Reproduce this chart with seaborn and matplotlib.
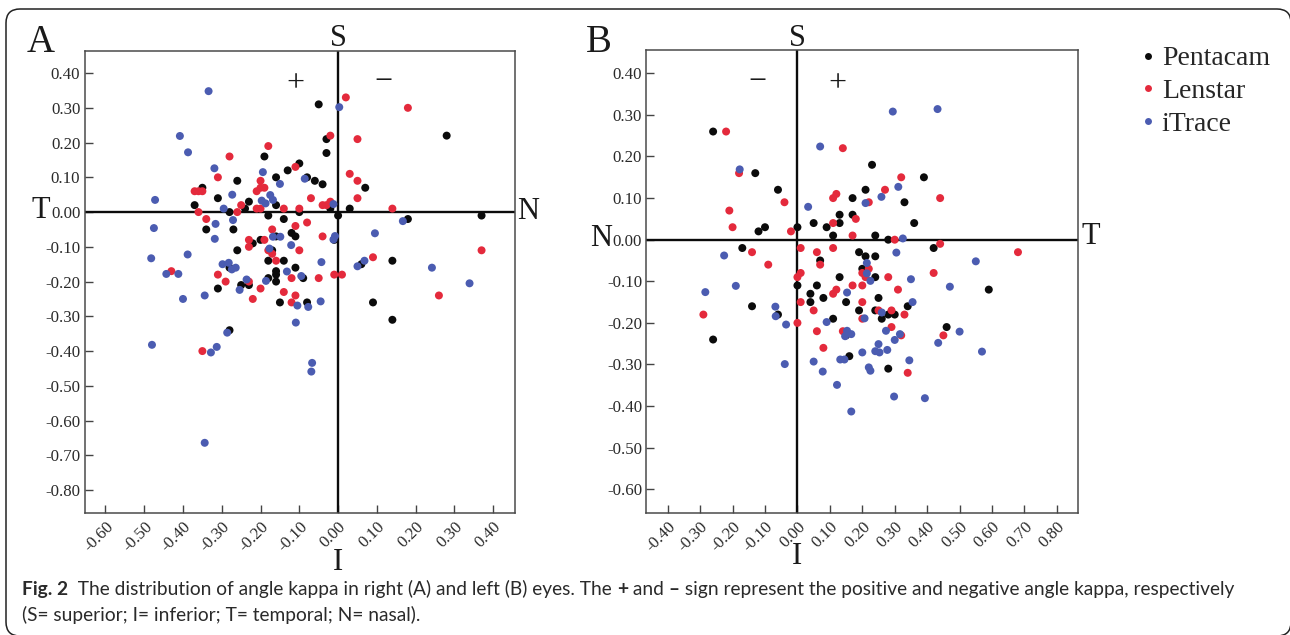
import pandas as pd
import matplotlib
matplotlib.use("Agg")
import matplotlib.pyplot as plt
import seaborn as sns
from matplotlib.lines import Line2D
from matplotlib.patches import FancyBboxPatch
from matplotlib.transforms import IdentityTransform

# right eye (A)
rightPentacamX = [-0.35, -0.37, -0.31, -0.26, -0.19, -0.16, -0.13, -0.23, -0.24, -0.28, -0.16, -0.18, -0.14, -0.34, -0.27, -0.12, -0.11, -0.16, -0.20, -0.22, -0.26, -0.17, -0.18, -0.14, -0.16, -0.16, -0.18, -0.16, -0.28, -0.25, -0.23, -0.31, -0.05, -0.03, -0.03, -0.10, -0.08, -0.06, -0.04, 0.07, 0.28, 0.03, -0.02, -0.10, 0.00, 0.18, 0.37, -0.01, 0.14, 0.06, -0.11, -0.09, -0.15, -0.08, 0.09, 0.14, -0.28]
rightPentacamY = [0.07, 0.02, 0.04, 0.09, 0.16, 0.10, 0.12, 0.03, 0.01, 0.00, 0.02, -0.01, -0.02, -0.05, -0.05, -0.06, -0.07, -0.07, -0.08, -0.09, -0.11, -0.11, -0.14, -0.14, -0.17, -0.18, -0.19, -0.20, -0.16, -0.21, -0.21, -0.22, 0.31, 0.21, 0.17, 0.14, 0.10, 0.09, 0.08, 0.07, 0.22, 0.01, 0.01, 0.00, -0.01, -0.02, -0.01, -0.08, -0.14, -0.15, -0.16, -0.19, -0.26, -0.26, -0.26, -0.31, -0.34]
rightLenstarX = [-0.18, -0.28, -0.31, -0.20, -0.19, -0.20, -0.21, -0.37, -0.36, -0.35, -0.25, -0.21, -0.20, -0.14, -0.26, -0.36, -0.34, -0.17, -0.23, -0.19, -0.23, -0.18, -0.17, -0.16, -0.43, -0.31, -0.29, -0.23, -0.20, -0.12, 0.02, 0.18, -0.02, 0.05, 0.03, 0.05, 0.05, 0.14, -0.11, -0.07, -0.04, -0.03, -0.02, -0.10, -0.08, -0.11, -0.04, -0.10, 0.09, 0.37, -0.01, 0.01, -0.05, -0.22, -0.14, -0.11, -0.12, 0.26, -0.35]
rightLenstarY = [0.19, 0.16, 0.10, 0.09, 0.07, 0.07, 0.06, 0.06, 0.06, 0.06, 0.02, 0.01, 0.01, 0.01, 0.00, 0.00, -0.02, -0.05, -0.08, -0.08, -0.10, -0.11, -0.12, -0.14, -0.17, -0.18, -0.20, -0.20, -0.22, -0.19, 0.33, 0.30, 0.22, 0.21, 0.11, 0.09, 0.04, 0.01, 0.13, 0.04, 0.02, 0.02, 0.03, 0.01, -0.03, -0.04, -0.07, -0.11, -0.13, -0.11, -0.18, -0.18, -0.19, -0.25, -0.23, -0.24, -0.26, -0.24, -0.40]
rightItraceX = [-0.334, -0.408, -0.387, -0.319, -0.472, -0.475, -0.316, -0.318, -0.271, -0.273, -0.295, -0.482, -0.388, -0.443, -0.412, -0.298, -0.282, -0.274, -0.264, -0.236, -0.186, -0.177, -0.168, -0.149, -0.132, -0.194, -0.150, -0.175, -0.197, -0.187, -0.168, -0.121, -0.254, 0.003, -0.086, -0.012, 0.167, 0.095, -0.008, -0.012, -0.043, 0.068, 0.050, 0.242, 0.339, -0.095, -0.400, -0.344, -0.045, -0.105, -0.077, -0.109, -0.286, -0.313, -0.328, -0.480, -0.067, -0.069, -0.344]
rightItraceY = [0.348, 0.219, 0.172, 0.126, 0.035, -0.046, -0.034, -0.077, -0.023, 0.050, 0.010, -0.133, -0.122, -0.178, -0.178, -0.150, -0.146, -0.165, -0.160, -0.194, -0.198, -0.105, -0.071, -0.071, -0.171, 0.115, 0.081, 0.049, 0.033, 0.025, 0.035, -0.095, -0.224, 0.302, 0.096, 0.023, -0.026, -0.061, -0.069, -0.079, -0.144, -0.140, -0.156, -0.160, -0.205, -0.184, -0.250, -0.240, -0.257, -0.269, -0.273, -0.318, -0.347, -0.388, -0.404, -0.382, -0.434, -0.459, -0.664]

# left eye (B)
leftPentacamX = [-0.26, -0.13, -0.06, -0.12, -0.10, 0.00, 0.05, 0.09, 0.11, 0.13, 0.13, 0.17, 0.17, 0.21, 0.23, -0.17, 0.07, 0.19, 0.21, 0.20, 0.13, 0.00, 0.06, 0.04, 0.04, 0.08, 0.15, 0.19, -0.14, -0.06, 0.11, 0.39, 0.33, 0.36, 0.24, 0.28, 0.24, 0.42, 0.24, 0.25, 0.24, 0.26, 0.28, 0.30, 0.34, 0.59, -0.26, 0.46, 0.16, 0.28, 0.15]
leftPentacamY = [0.26, 0.16, 0.12, 0.02, 0.03, 0.03, 0.04, 0.03, 0.01, 0.04, 0.06, 0.10, 0.06, 0.12, 0.18, -0.02, -0.05, -0.03, -0.04, -0.07, -0.09, -0.11, -0.11, -0.13, -0.15, -0.14, -0.15, -0.17, -0.16, -0.18, -0.19, 0.15, 0.09, 0.04, 0.01, 0.00, -0.04, -0.02, -0.09, -0.14, -0.17, -0.19, -0.18, -0.18, -0.16, -0.12, -0.24, -0.21, -0.28, -0.31, -0.23]
leftLenstarX = [-0.22, 0.14, -0.18, -0.04, 0.12, 0.11, -0.21, -0.20, -0.02, 0.11, 0.18, 0.17, -0.14, 0.01, 0.06, 0.11, 0.07, -0.09, 0.01, 0.00, 0.20, 0.21, 0.22, 0.12, 0.11, 0.17, 0.20, 0.01, 0.20, 0.05, -0.29, 0.32, 0.27, 0.44, 0.22, 0.30, 0.44, 0.68, 0.42, 0.28, 0.31, 0.25, 0.29, 0.33, 0.00, 0.20, 0.29, 0.06, 0.14, 0.32, 0.45, 0.08, 0.34]
leftLenstarY = [0.26, 0.22, 0.16, 0.09, 0.11, 0.10, 0.07, 0.03, 0.02, 0.04, 0.05, 0.01, -0.03, -0.02, -0.03, -0.02, -0.06, -0.06, -0.08, -0.09, -0.08, -0.09, -0.07, -0.12, -0.13, -0.11, -0.11, -0.15, -0.15, -0.17, -0.18, 0.15, 0.12, 0.10, 0.09, 0.00, -0.01, -0.03, -0.08, -0.09, -0.12, -0.17, -0.17, -0.18, -0.20, -0.19, -0.21, -0.22, -0.22, -0.23, -0.23, -0.26, -0.32]
leftItraceX = [0.070, -0.178, 0.033, 0.210, -0.226, -0.284, -0.190, -0.068, -0.067, 0.153, 0.090, 0.207, 0.214, 0.214, 0.225, 0.294, 0.432, 0.311, 0.259, 0.325, 0.305, 0.550, 0.350, 0.355, 0.260, 0.273, 0.153, 0.166, 0.147, 0.316, 0.300, 0.250, 0.240, 0.253, 0.277, 0.200, 0.132, 0.145, 0.220, 0.225, 0.345, 0.470, 0.500, 0.434, 0.569, -0.035, -0.039, 0.050, 0.078, 0.122, 0.298, 0.393, 0.166]
leftItraceY = [0.224, 0.169, 0.079, 0.088, -0.038, -0.126, -0.111, -0.161, -0.184, -0.127, -0.198, -0.189, -0.056, -0.081, -0.099, 0.308, 0.314, 0.127, 0.103, 0.003, -0.031, -0.052, -0.095, -0.150, -0.175, -0.219, -0.219, -0.227, -0.232, -0.227, -0.241, -0.251, -0.268, -0.271, -0.265, -0.271, -0.288, -0.288, -0.307, -0.315, -0.290, -0.113, -0.221, -0.248, -0.269, -0.204, -0.299, -0.293, -0.317, -0.349, -0.377, -0.381, -0.413]

devices = ["Pentacam", "Lenstar", "iTrace"]
colors = {"Pentacam": "#0b0b0b", "Lenstar": "#e42a3c", "iTrace": "#4b5cb1"}
rightXTicks = [-0.6, -0.5, -0.4, -0.3, -0.2, -0.1, 0.0, 0.1, 0.2, 0.3, 0.4]
rightYTicks = [0.4, 0.3, 0.2, 0.1, 0.0, -0.1, -0.2, -0.3, -0.4, -0.5, -0.6, -0.7, -0.8]
leftXTicks = [-0.4, -0.3, -0.2, -0.1, 0.0, 0.1, 0.2, 0.3, 0.4, 0.5, 0.6, 0.7, 0.8]
leftYTicks = [0.4, 0.3, 0.2, 0.1, 0.0, -0.1, -0.2, -0.3, -0.4, -0.5, -0.6]

W, H = 1290, 635
sns.set_style("white")
plt.rcParams["font.family"] = ["Liberation Serif", "DejaVu Serif"]
fig = plt.figure(figsize=(W / 100, H / 100), dpi=100)


def makeFrame(xs, ys):
    rows = []
    for d, x, y in zip(devices, xs, ys):
        rows.append(pd.DataFrame({"x": x, "y": y, "device": d}))
    return pd.concat(rows, ignore_index=True)


def panel(box, df, xlim, ylim, xticks, yticks):
    left, top, right, bottom = box
    ax = fig.add_axes([left / W, 1 - bottom / H, (right - left) / W, (bottom - top) / H])
    ax.axhline(0, color="#0b0b0b", lw=1.7, zorder=2)
    ax.axvline(0, color="#0b0b0b", lw=1.7, zorder=2)
    sns.scatterplot(data=df, x="x", y="y", hue="device", hue_order=devices, palette=colors,
                    s=33, linewidth=0, legend=False, zorder=3, ax=ax)
    ax.set_xlim(xlim)
    ax.set_ylim(ylim)
    ax.set_xticks(xticks)
    ax.set_yticks(yticks)
    ax.set_xticklabels([f"{t:.2f}" for t in xticks], rotation=45, ha="right", rotation_mode="anchor",
                       family="Liberation Serif")
    ax.set_yticklabels([f"{t:.2f}" for t in yticks], family="Liberation Serif")
    ax.tick_params(axis="both", direction="in", length=5.5, width=1, color="#444444",
                   labelsize=12.2, labelcolor="#2a2a2a", left=True, bottom=True)
    ax.tick_params(axis="x", pad=4)
    ax.tick_params(axis="y", pad=3)
    ax.set_xlabel("")
    ax.set_ylabel("")
    for sp in ax.spines.values():
        sp.set_color("#4a4a4a")
        sp.set_linewidth(1.1)
        sp.set_visible(True)
    return ax


panel((84.5, 50.5, 515.3, 513), makeFrame([rightPentacamX, rightLenstarX, rightItraceX], [rightPentacamY, rightLenstarY, rightItraceY]),
      (-0.654, 0.457), (-0.866, 0.465), rightXTicks, rightYTicks)
panel((646.3, 50, 1078.3, 513), makeFrame([leftPentacamX, leftLenstarX, leftItraceX], [leftPentacamY, leftLenstarY, leftItraceY]),
      (-0.466, 0.866), (-0.657, 0.456), leftXTicks, leftYTicks)


def label(x, y, s, size, **kw):
    fig.text(x / W, 1 - y / H, s, fontsize=size, ha="center", va="center", color="#1a1a1a", **kw)


label(41, 42, "A", 28)
label(599, 42, "B", 28)
for x, y, s in [(338, 38, "S"), (41, 211, "T"), (528, 212, "N"), (338, 562, "I"),
                (797, 38, "S"), (601, 238, "N"), (1091, 237, "T"), (797, 556, "I")]:
    label(x, y, s, 22)
for x, y, s in [(295, 84, "+"), (383, 82, "\u2212"), (757, 83, "\u2212"), (837, 84, "+")]:
    label(x, y, s, 23)

handles = [Line2D([], [], marker="o", ls="", ms=5, mew=0, color=colors[d], label=d) for d in devices]
fig.legend(handles=handles, loc="upper left", bbox_to_anchor=(1134 / W, 1 - 46 / H), frameon=False,
           fontsize=20, handletextpad=0.0, labelspacing=0.26, handlelength=1.0, borderpad=0, borderaxespad=0)

# rounded frame round the whole figure
frame = FancyBboxPatch((18, 11), 1261, 603, boxstyle="round,pad=12,rounding_size=14",
                       transform=IdentityTransform(), fc="none", ec="#222222", lw=1.1)
fig.add_artist(frame)

# caption, run by run so the bold bits sit inline
capFont = "Lato"
capSize = 13.8
rend = fig.canvas.get_renderer()
runs = [("Fig. 2", "bold"), ("  The distribution of angle kappa in right (A) and left (B) eyes. The ", "normal"), ("+", "bold"),
        (" and ", "normal"), ("\u2013", "bold"), (" sign represent the positive and negative angle kappa, respectively", "normal")]
xPos = 22
for s, w in runs:
    fig.text(xPos / W, 1 - 595 / H, s, family=capFont, weight=w, fontsize=capSize, color="#2a2a2a", va="baseline")
    # trailing spaces count in the width
    tmp = fig.text(0, 0, s.replace(" ", "\u00a0"), family=capFont, weight=w, fontsize=capSize)
    xPos += tmp.get_window_extent(rend).width
    tmp.remove()
fig.text(22 / W, 1 - 621 / H, "(S= superior; I= inferior; T= temporal; N= nasal).", family=capFont, fontsize=capSize, color="#2a2a2a", va="baseline")

fig.savefig("out.png", dpi=100)
